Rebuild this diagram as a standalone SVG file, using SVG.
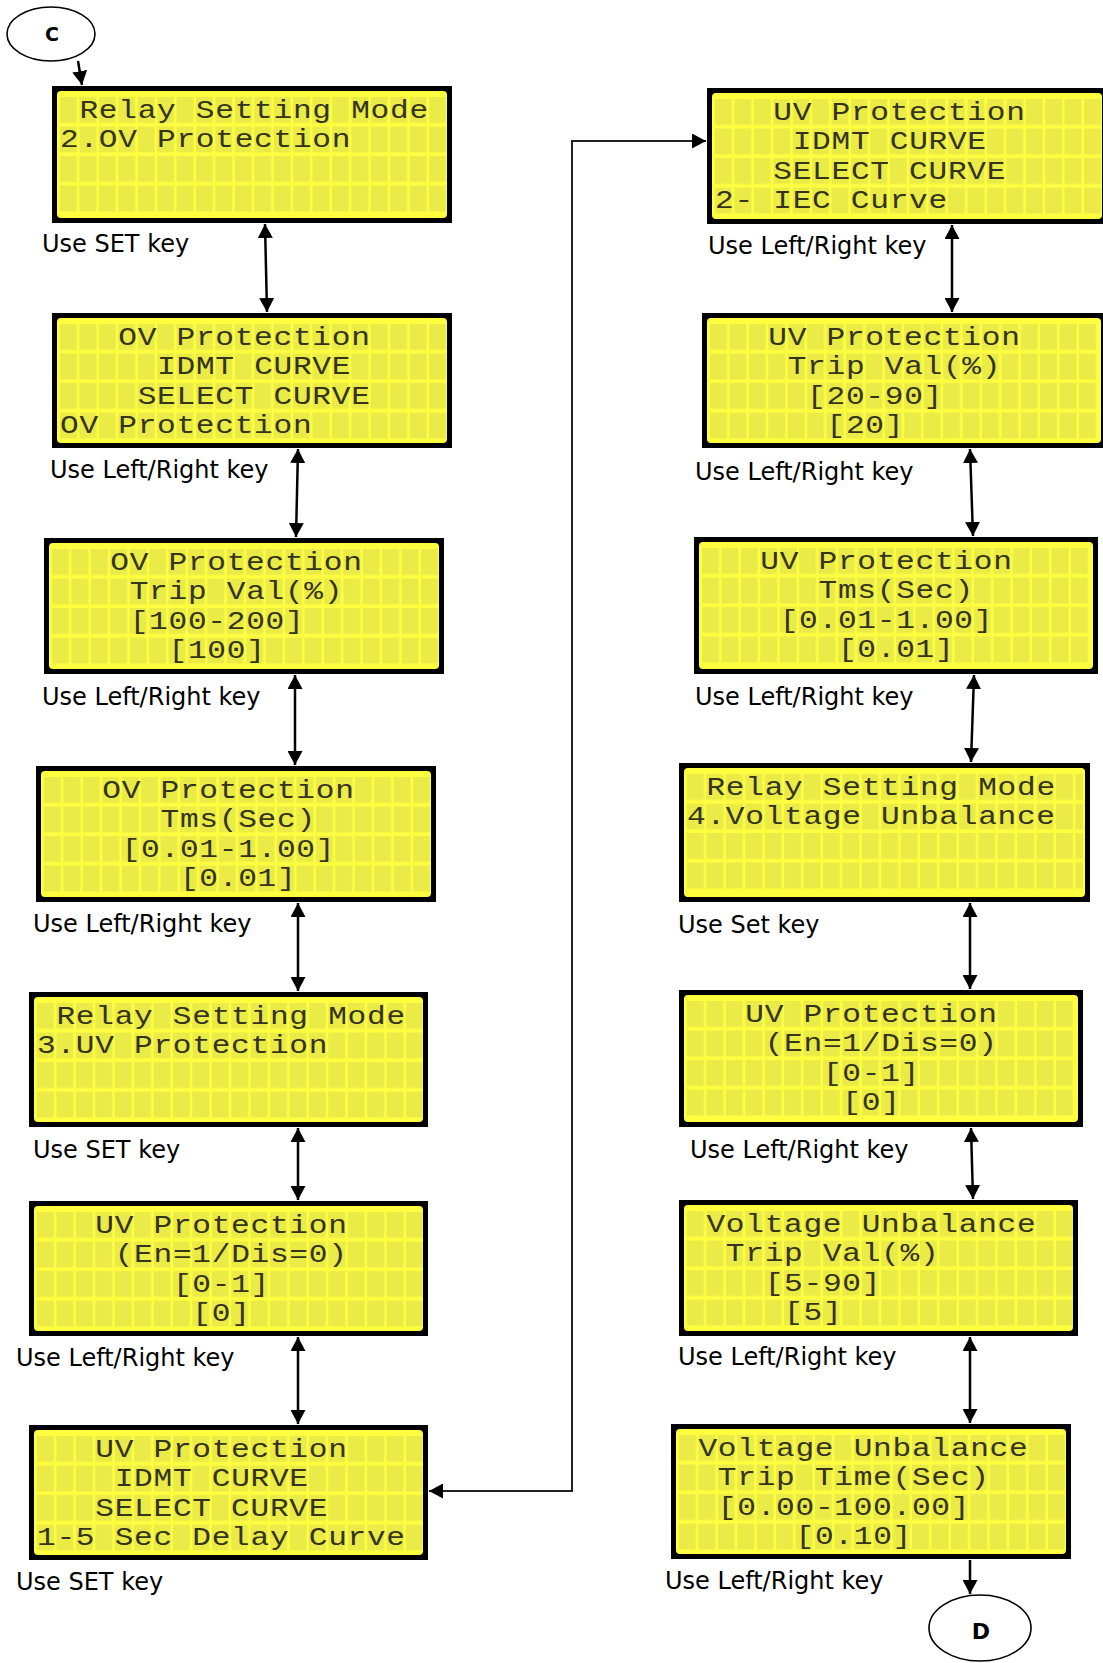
<svg xmlns="http://www.w3.org/2000/svg" width="1103" height="1663" viewBox="0 0 1103 1663">
<style>
.frame{fill:#000}
.glass{fill:#FFFF40}
.cells{fill:url(#cellpat)}
.lcd{font-family:"Liberation Mono","DejaVu Sans Mono",monospace;font-size:26px;letter-spacing:0.58px;fill:#34341c}
.lbl{font-family:"DejaVu Sans","Verdana","Liberation Sans",sans-serif;font-size:24px;fill:#000}
.conn{fill:none;stroke:#000;stroke-width:2.5}
.thin{fill:none;stroke:#222;stroke-width:2}
.term{fill:#fff;stroke:#000;stroke-width:1.6}
.termtxt{font-family:"DejaVu Sans","Liberation Sans",sans-serif;font-weight:bold;fill:#000;text-anchor:middle}
</style>
<defs>
<pattern id="cellpat" patternUnits="userSpaceOnUse" x="8" y="11" width="19.42" height="29.5">
<rect x="0" y="0" width="17" height="26" fill="#EBEB48"/>
</pattern>
<marker id="ah" viewBox="0 0 14 15" refX="14" refY="7.5" markerWidth="14" markerHeight="15" markerUnits="userSpaceOnUse" orient="auto-start-reverse">
<path d="M0,0 L14,7.5 L0,15 z" fill="#000"/>
</marker>
</defs>
<rect width="1103" height="1663" fill="#fff"/>

<g id="connectors">
<line class="conn" x1="78" y1="61" x2="82" y2="85" marker-end="url(#ah)"/>
<line class="conn" x1="265" y1="224" x2="267" y2="312" marker-start="url(#ah)" marker-end="url(#ah)"/>
<line class="conn" x1="298" y1="449" x2="296" y2="537" marker-start="url(#ah)" marker-end="url(#ah)"/>
<line class="conn" x1="295" y1="675" x2="295" y2="765" marker-start="url(#ah)" marker-end="url(#ah)"/>
<line class="conn" x1="298" y1="903" x2="298" y2="991" marker-start="url(#ah)" marker-end="url(#ah)"/>
<line class="conn" x1="298" y1="1128" x2="298" y2="1200" marker-start="url(#ah)" marker-end="url(#ah)"/>
<line class="conn" x1="298" y1="1337" x2="298" y2="1424" marker-start="url(#ah)" marker-end="url(#ah)"/>
<polyline class="thin" points="429,1491 572,1491 572,141 706,141" marker-start="url(#ah)" marker-end="url(#ah)"/>
<line class="conn" x1="952" y1="225" x2="952" y2="312" marker-start="url(#ah)" marker-end="url(#ah)"/>
<line class="conn" x1="970" y1="449" x2="973" y2="536" marker-start="url(#ah)" marker-end="url(#ah)"/>
<line class="conn" x1="974" y1="675" x2="971" y2="762" marker-start="url(#ah)" marker-end="url(#ah)"/>
<line class="conn" x1="970" y1="903" x2="970" y2="989" marker-start="url(#ah)" marker-end="url(#ah)"/>
<line class="conn" x1="971" y1="1128" x2="973" y2="1199" marker-start="url(#ah)" marker-end="url(#ah)"/>
<line class="conn" x1="970" y1="1337" x2="970" y2="1423" marker-start="url(#ah)" marker-end="url(#ah)"/>
<line class="conn" x1="970" y1="1560" x2="970" y2="1594" marker-end="url(#ah)"/>
</g>

<g id="termC">
<ellipse class="term" cx="51" cy="34" rx="44" ry="27"/>
<text class="termtxt" x="52" y="41" font-size="19">C</text>
</g>
<g id="termD">
<ellipse class="term" cx="980" cy="1628" rx="51" ry="33"/>
<text class="termtxt" x="981" y="1639" font-size="22">D</text>
</g>

<g id="p1" transform="translate(52,86)">
<rect class="frame" width="400" height="137"/><rect class="glass" x="5" y="5" width="390" height="127" rx="4"/><rect class="cells" x="8" y="11" width="386" height="115"/>
<g transform="scale(1.2,1)">
<text class="lcd" x="22.85" y="32">Relay Setting Mode</text>
<text class="lcd" x="6.67" y="61.5">2.OV Protection</text>
</g>
</g>
<text class="lbl" x="42" y="252">Use SET key</text>

<g id="p2" transform="translate(52,313)">
<rect class="frame" width="400" height="135"/><rect class="glass" x="5" y="5" width="390" height="125" rx="4"/><rect class="cells" x="8" y="11" width="386" height="115"/>
<g transform="scale(1.2,1)">
<text class="lcd" x="55.22" y="32">OV Protection</text>
<text class="lcd" x="87.58" y="61.5">IDMT CURVE</text>
<text class="lcd" x="71.4" y="91">SELECT CURVE</text>
<text class="lcd" x="6.67" y="120.5">OV Protection</text>
</g>
</g>
<text class="lbl" x="50" y="478">Use Left/Right key</text>

<g id="p3" transform="translate(44,538)">
<rect class="frame" width="400" height="136"/><rect class="glass" x="5" y="5" width="390" height="126" rx="4"/><rect class="cells" x="8" y="11" width="386" height="115"/>
<g transform="scale(1.2,1)">
<text class="lcd" x="55.22" y="32">OV Protection</text>
<text class="lcd" x="71.4" y="61.5">Trip Val(%)</text>
<text class="lcd" x="71.4" y="91">[100-200]</text>
<text class="lcd" x="103.77" y="120.5">[100]</text>
</g>
</g>
<text class="lbl" x="42" y="705">Use Left/Right key</text>

<g id="p4" transform="translate(36,766)">
<rect class="frame" width="400" height="136"/><rect class="glass" x="5" y="5" width="390" height="126" rx="4"/><rect class="cells" x="8" y="11" width="386" height="115"/>
<g transform="scale(1.2,1)">
<text class="lcd" x="55.22" y="32">OV Protection</text>
<text class="lcd" x="103.77" y="61.5">Tms(Sec)</text>
<text class="lcd" x="71.4" y="91">[0.01-1.00]</text>
<text class="lcd" x="119.95" y="120.5">[0.01]</text>
</g>
</g>
<text class="lbl" x="33" y="932">Use Left/Right key</text>

<g id="p5" transform="translate(29,992)">
<rect class="frame" width="399" height="135"/><rect class="glass" x="5" y="5" width="389" height="125" rx="4"/><rect class="cells" x="8" y="11" width="386" height="115"/>
<g transform="scale(1.2,1)">
<text class="lcd" x="22.85" y="32">Relay Setting Mode</text>
<text class="lcd" x="6.67" y="61.5">3.UV Protection</text>
</g>
</g>
<text class="lbl" x="33" y="1158">Use SET key</text>

<g id="p6" transform="translate(29,1201)">
<rect class="frame" width="399" height="135"/><rect class="glass" x="5" y="5" width="389" height="125" rx="4"/><rect class="cells" x="8" y="11" width="386" height="115"/>
<g transform="scale(1.2,1)">
<text class="lcd" x="55.22" y="32">UV Protection</text>
<text class="lcd" x="71.4" y="61.5">(En=1/Dis=0)</text>
<text class="lcd" x="119.95" y="91">[0-1]</text>
<text class="lcd" x="136.13" y="120.5">[0]</text>
</g>
</g>
<text class="lbl" x="16" y="1366">Use Left/Right key</text>

<g id="p7" transform="translate(29,1425)">
<rect class="frame" width="399" height="135"/><rect class="glass" x="5" y="5" width="389" height="125" rx="4"/><rect class="cells" x="8" y="11" width="386" height="115"/>
<g transform="scale(1.2,1)">
<text class="lcd" x="55.22" y="32">UV Protection</text>
<text class="lcd" x="71.4" y="61.5">IDMT CURVE</text>
<text class="lcd" x="55.22" y="91">SELECT CURVE</text>
<text class="lcd" x="6.67" y="120.5">1-5 Sec Delay Curve</text>
</g>
</g>
<text class="lbl" x="16" y="1590">Use SET key</text>

<g id="p8" transform="translate(707,88)">
<rect class="frame" width="400" height="136"/><rect class="glass" x="5" y="5" width="390" height="126" rx="4"/><rect class="cells" x="8" y="11" width="386" height="115"/>
<g transform="scale(1.2,1)">
<text class="lcd" x="55.22" y="32">UV Protection</text>
<text class="lcd" x="71.4" y="61.5">IDMT CURVE</text>
<text class="lcd" x="55.22" y="91">SELECT CURVE</text>
<text class="lcd" x="6.67" y="120.5">2- IEC Curve</text>
</g>
</g>
<text class="lbl" x="708" y="254">Use Left/Right key</text>

<g id="p9" transform="translate(702,313)">
<rect class="frame" width="404" height="135"/><rect class="glass" x="5" y="5" width="394" height="125" rx="4"/><rect class="cells" x="8" y="11" width="386" height="115"/>
<g transform="scale(1.2,1)">
<text class="lcd" x="55.22" y="32">UV Protection</text>
<text class="lcd" x="71.4" y="61.5">Trip Val(%)</text>
<text class="lcd" x="87.58" y="91">[20-90]</text>
<text class="lcd" x="103.77" y="120.5">[20]</text>
</g>
</g>
<text class="lbl" x="695" y="480">Use Left/Right key</text>

<g id="p10" transform="translate(694,537)">
<rect class="frame" width="404" height="137"/><rect class="glass" x="5" y="5" width="394" height="127" rx="4"/><rect class="cells" x="8" y="11" width="386" height="115"/>
<g transform="scale(1.2,1)">
<text class="lcd" x="55.22" y="32">UV Protection</text>
<text class="lcd" x="103.77" y="61.5">Tms(Sec)</text>
<text class="lcd" x="71.4" y="91">[0.01-1.00]</text>
<text class="lcd" x="119.95" y="120.5">[0.01]</text>
</g>
</g>
<text class="lbl" x="695" y="705">Use Left/Right key</text>

<g id="p11" transform="translate(679,763)">
<rect class="frame" width="411" height="139"/><rect class="glass" x="5" y="5" width="401" height="129" rx="4"/><rect class="cells" x="8" y="11" width="396" height="117"/>
<g transform="scale(1.2,1)">
<text class="lcd" x="22.85" y="32">Relay Setting Mode</text>
<text class="lcd" x="6.67" y="61.5">4.Voltage Unbalance</text>
</g>
</g>
<text class="lbl" x="678" y="933">Use Set key</text>

<g id="p12" transform="translate(679,990)">
<rect class="frame" width="404" height="137"/><rect class="glass" x="5" y="5" width="394" height="127" rx="4"/><rect class="cells" x="8" y="11" width="386" height="115"/>
<g transform="scale(1.2,1)">
<text class="lcd" x="55.22" y="32">UV Protection</text>
<text class="lcd" x="71.4" y="61.5">(En=1/Dis=0)</text>
<text class="lcd" x="119.95" y="91">[0-1]</text>
<text class="lcd" x="136.13" y="120.5">[0]</text>
</g>
</g>
<text class="lbl" x="690" y="1158">Use Left/Right key</text>

<g id="p13" transform="translate(679,1200)">
<rect class="frame" width="399" height="136"/><rect class="glass" x="5" y="5" width="389" height="126" rx="4"/><rect class="cells" x="8" y="11" width="386" height="115"/>
<g transform="scale(1.2,1)">
<text class="lcd" x="22.85" y="32">Voltage Unbalance</text>
<text class="lcd" x="39.03" y="61.5">Trip Val(%)</text>
<text class="lcd" x="71.4" y="91">[5-90]</text>
<text class="lcd" x="87.58" y="120.5">[5]</text>
</g>
</g>
<text class="lbl" x="678" y="1365">Use Left/Right key</text>

<g id="p14" transform="translate(671,1424)">
<rect class="frame" width="400" height="135"/><rect class="glass" x="5" y="5" width="390" height="125" rx="4"/><rect class="cells" x="8" y="11" width="386" height="115"/>
<g transform="scale(1.2,1)">
<text class="lcd" x="22.85" y="32">Voltage Unbalance</text>
<text class="lcd" x="39.03" y="61.5">Trip Time(Sec)</text>
<text class="lcd" x="39.03" y="91">[0.00-100.00]</text>
<text class="lcd" x="103.77" y="120.5">[0.10]</text>
</g>
</g>
<text class="lbl" x="665" y="1589">Use Left/Right key</text>
</svg>
